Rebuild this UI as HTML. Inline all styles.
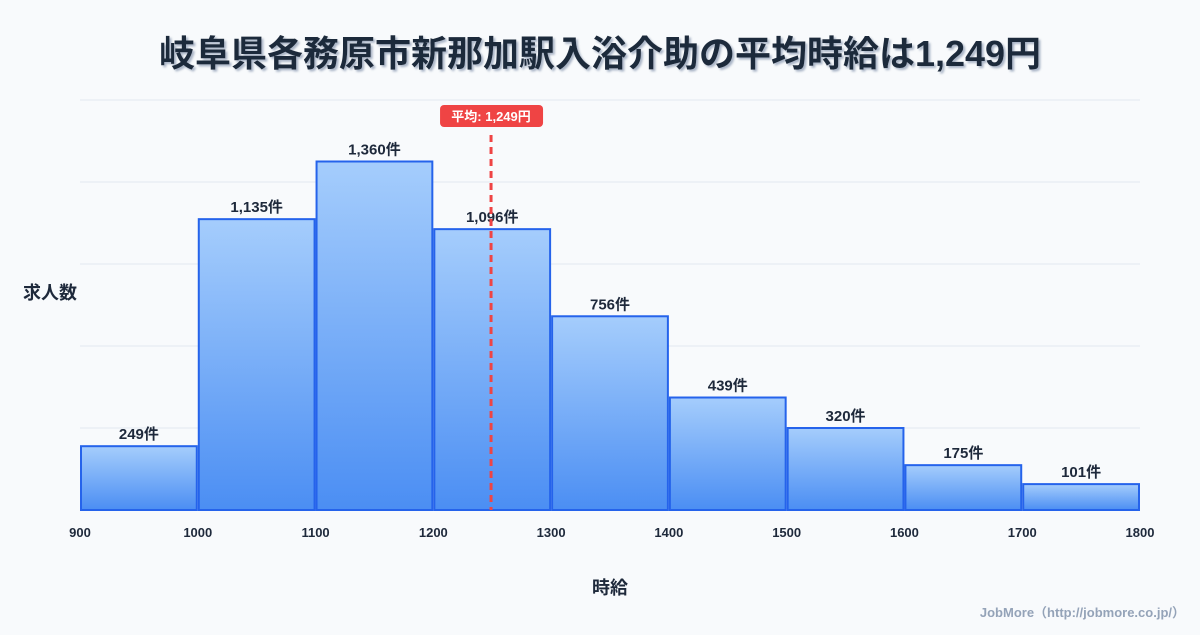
<!DOCTYPE html>
<html><head><meta charset="utf-8">
<style>
body{margin:0;background:#f8fafc;font-family:"Liberation Sans","Noto Sans CJK JP",sans-serif;}
svg text{font-family:"Liberation Sans","Noto Sans CJK JP",sans-serif;}
</style></head>
<body>
<svg id="c" width="1200" height="630" viewBox="0 0 1200 630">
<defs>
<linearGradient id="g" x1="0" y1="0" x2="0" y2="1">
<stop offset="0" stop-color="#a5cdfc"/><stop offset="1" stop-color="#4b8ef3"/>
</linearGradient>
<filter id="sh"><feDropShadow dx="2" dy="2" stdDeviation="1" flood-color="#94a3b8" flood-opacity="0.8"/></filter>
</defs>
<rect width="1200" height="630" fill="#f8fafc"/>
<text x="600" y="66" text-anchor="middle" font-size="36" font-weight="bold" fill="#1e293b" filter="url(#sh)">岐阜県各務原市新那加駅入浴介助の平均時給は1,249円</text>
<text x="50" y="299" text-anchor="middle" font-size="18" font-weight="bold" fill="#1e293b">求人数</text>
<text x="610" y="594" text-anchor="middle" font-size="18" font-weight="bold" fill="#1e293b">時給</text>
<text x="1185" y="617" text-anchor="end" font-size="13" font-weight="bold" fill="#94a3b8">JobMore（http://jobmore.co.jp/）</text>
<g id="grid"></g><g id="bars"></g><g id="xt"></g><g id="mean"></g>
</svg>
<script>
const binStarts=[900,1000,1100,1200,1300,1400,1500,1600,1700];
const counts=[249,1135,1360,1096,756,439,320,175,101];
const xTicks=[900,1000,1100,1200,1300,1400,1500,1600,1700,1800];
const yTicks=[0,320,640,960,1280,1600];
const meanValue=1249;
const binWidth=100;
const NS="http://www.w3.org/2000/svg";
const X0=80,X1=1140,Y0=510,Y1=100,xmin=900,xmax=1800,ymax=1600;
const xs=v=>X0+(v-xmin)/(xmax-xmin)*(X1-X0);
const ys=v=>Y0-v/ymax*(Y0-Y1);
function mk(t,a,p){const e=document.createElementNS(NS,t);for(const k in a)e.setAttribute(k,a[k]);p.appendChild(e);return e;}
const grid=document.getElementById('grid');
yTicks.forEach(v=>{const l=mk('line',{x1:X0,x2:X1,y1:ys(v),y2:ys(v),stroke:'#e2e8f0','stroke-width':1},grid);

});
const bars=document.getElementById('bars');
binStarts.forEach((b,i)=>{const x=xs(b)+1,w=xs(b+binWidth)-xs(b)-2,y=ys(counts[i]);
const r=mk('rect',{x:x,y:y,width:w,height:Y0-y,fill:'url(#g)',stroke:'#2563eb','stroke-width':2},bars);


const t=mk('text',{x:x+w/2,y:y-7,'text-anchor':'middle','font-size':15,'font-weight':'bold',fill:'#1e293b'},bars);
t.textContent=counts[i].toLocaleString('en-US')+'件';

});
const xt=document.getElementById('xt');
xTicks.forEach(v=>{const t=mk('text',{x:xs(v),y:537,'text-anchor':'middle','font-size':13,'font-weight':'bold',fill:'#1e293b'},xt);
t.textContent=v;

});
const m=document.getElementById('mean');const mx=xs(meanValue);
const ml=mk('line',{x1:mx,x2:mx,y1:135,y2:Y0,stroke:'#ef4444','stroke-width':3,'stroke-dasharray':'7,5'},m);


const mb=mk('rect',{x:mx-51,y:105,width:103,height:22,rx:4,fill:'#ef4444'},m);


const mt=mk('text',{x:mx,y:121,'text-anchor':'middle','font-size':13,'font-weight':'bold',fill:'#fff'},m);
mt.textContent='平均: '+meanValue.toLocaleString('en-US')+'円';


</script>
</body></html>
